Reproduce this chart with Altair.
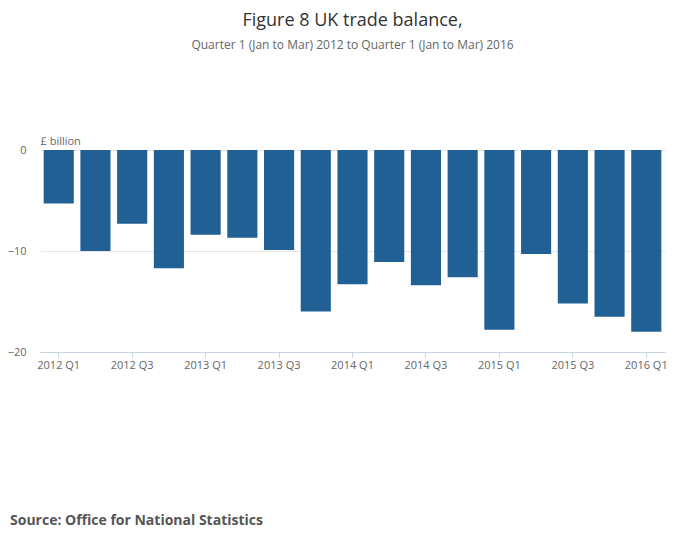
import altair as alt
import pandas as pd

quarters = ["2012 Q1", "2012 Q2", "2012 Q3", "2012 Q4",
            "2013 Q1", "2013 Q2", "2013 Q3", "2013 Q4",
            "2014 Q1", "2014 Q2", "2014 Q3", "2014 Q4",
            "2015 Q1", "2015 Q2", "2015 Q3", "2015 Q4",
            "2016 Q1"]
balance = [-5.3, -10.0, -7.3, -11.7, -8.4, -8.7, -9.9, -16.0,
           -13.3, -11.1, -13.4, -12.6, -17.8, -10.3, -15.2, -16.5, -18.0]
shown = quarters[::2]

df = pd.DataFrame({"quarter": quarters, "balance": balance})
font = "Open Sans"

bars = alt.Chart(df).mark_bar(color="#206095").encode(
    x=alt.X("quarter:N", sort=quarters, title=None,
            scale=alt.Scale(paddingInner=0.18, paddingOuter=0.1),
            axis=alt.Axis(values=shown, labelAngle=0, labelColor="#666",
                          labelFontSize=11, domainColor="#c8d3e6",
                          tickColor="#c8d3e6", tickSize=5)),
    y=alt.Y("balance:Q", scale=alt.Scale(domain=[-20, 0]),
            axis=alt.Axis(values=[0, -10, -20], title="£ billion",
                          titleAngle=0, titleAlign="left", titleX=0, titleY=-4,
                          titleFontWeight="normal", titleColor="#666",
                          titleFontSize=11, labelColor="#666", labelFontSize=11,
                          domain=False, ticks=False, gridColor="#e6e6e6",
                          labelPadding=14)),
)

source = alt.Chart(pd.DataFrame({"t": ["Source: Office for National Statistics"]})).mark_text(
    align="left", baseline="middle", fontWeight="bold", fontSize=14,
    color="#555", font=font
).encode(text="t:N", x=alt.value(-30), y=alt.value(371))

chart = alt.layer(bars, source).properties(
    width=625, height=202,
    autosize=alt.AutoSizeParams(type="none"),
    padding={"left": 32, "top": 142, "right": 20, "bottom": 180},
    title=alt.TitleParams(
        "Figure 8 UK trade balance,",
        subtitle="Quarter 1 (Jan to Mar) 2012 to Quarter 1 (Jan to Mar) 2016",
        fontSize=18, fontWeight="normal", color="#333", subtitleColor="#666",
        subtitleFontSize=12, subtitlePadding=10, font=font, subtitleFont=font,
        anchor="middle", offset=84, frame="group"),
).configure(font=font).configure_view(stroke=None)

chart.save("out.html", embed_options={"renderer": "svg", "actions": False})
